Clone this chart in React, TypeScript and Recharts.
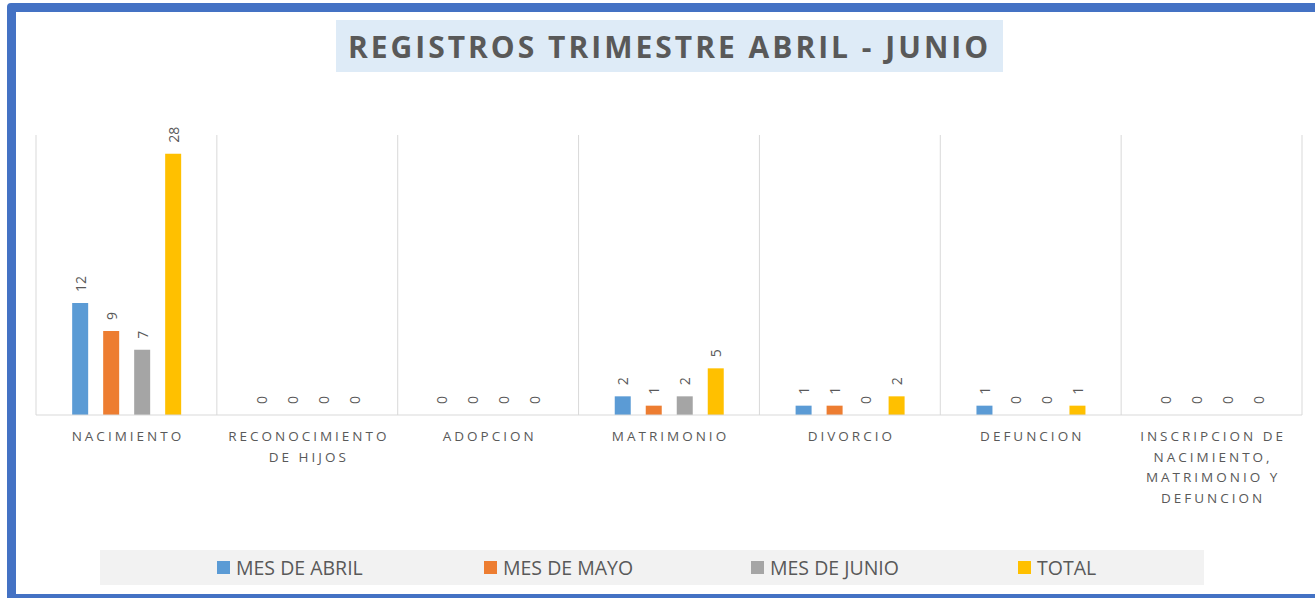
import { BarChart, Bar, XAxis, YAxis, CartesianGrid, LabelList } from 'recharts'

const categories = [
  'NACIMIENTO',
  'RECONOCIMIENTO DE HIJOS',
  'ADOPCION',
  'MATRIMONIO',
  'DIVORCIO',
  'DEFUNCION',
  'INSCRIPCION DE NACIMIENTO, MATRIMONIO Y DEFUNCION',
]
const abril = [12, 0, 0, 2, 1, 1, 0]
const mayo = [9, 0, 0, 1, 1, 0, 0]
const junio = [7, 0, 0, 2, 0, 0, 0]
const total = [28, 0, 0, 5, 2, 1, 0]

const series = [
  { key: 'abril', name: 'MES DE ABRIL', color: '#5B9BD5', values: abril },
  { key: 'mayo', name: 'MES DE MAYO', color: '#ED7D31', values: mayo },
  { key: 'junio', name: 'MES DE JUNIO', color: '#A5A5A5', values: junio },
  { key: 'total', name: 'TOTAL', color: '#FFC000', values: total },
]

const data = categories.map((name, i) => {
  const row: Record<string, string | number> = { name }
  series.forEach(s => { row[s.key] = s.values[i] })
  return row
})

const TEXT = '#595959'
const FONT = '"Open Sans", sans-serif'

// greedy wrap like Excel does for narrow category slots
function wrap(label: string, max = 15) {
  const lines: string[] = []
  let cur = ''
  for (const w of label.split(' ')) {
    const next = cur ? cur + ' ' + w : w
    if (next.length > max && cur) {
      lines.push(cur)
      cur = w
    } else cur = next
  }
  if (cur) lines.push(cur)
  return lines
}

function CategoryTick(props: any) {
  const { x, y, payload } = props
  const lines = wrap(String(payload.value))
  return (
    <text x={x} y={y} textAnchor="middle" fill={TEXT} fontFamily={FONT} fontSize={13.5} letterSpacing={3}>
      {lines.map((l, i) => (
        <tspan key={i} x={x + 1.5} dy={i === 0 ? 18 : 20.5}>{l}</tspan>
      ))}
    </text>
  )
}

function ValueLabel(props: any) {
  const { x, y, width, height, value } = props
  const cx = x + width / 2
  // zero bars come through with a tiny height, anchor to the top edge anyway
  const cy = Math.min(y, y + height) - 11
  return (
    <text
      x={cx}
      y={cy}
      transform={`rotate(-90, ${cx}, ${cy})`}
      textAnchor="start"
      dominantBaseline="central"
      fill={TEXT}
      fontFamily={FONT}
      fontSize={14}
    >
      {value}
    </text>
  )
}

export default function App() {
  return (
    <div style={{ position: 'fixed', left: 0, top: 0, width: 1315, height: 598, background: '#fff', overflow: 'hidden' }}>
      <div
        style={{
          position: 'absolute',
          left: 7,
          top: 3,
          width: 1320,
          height: 600,
          border: '9px solid #4472C4',
          borderRadius: 4,
          boxSizing: 'border-box',
        }}
      />
      <div
        style={{
          position: 'absolute',
          left: 336,
          top: 20,
          width: 667,
          height: 52,
          background: '#DEEBF7',
          display: 'flex',
          alignItems: 'center',
          justifyContent: 'center',
          fontFamily: FONT,
          fontWeight: 700,
          fontSize: 30,
          letterSpacing: 3,
          color: TEXT,
        }}
      >
        REGISTROS TRIMESTRE ABRIL - JUNIO
      </div>
      <div style={{ position: 'absolute', left: 0, top: 0 }}>
        <BarChart
          width={1315}
          height={598}
          data={data}
          margin={{ top: 135, right: 13, left: 36, bottom: 93 }}
          barCategoryGap="20%"
          barGap={15}
        >
          <CartesianGrid
            horizontal={false}
            stroke="#D9D9D9"
            verticalCoordinatesGenerator={({ offset }: any) =>
              Array.from({ length: categories.length + 1 }, (_, i) => offset.left + (i * offset.width) / categories.length)
            }
          />
          <XAxis
            dataKey="name"
            height={90}
            interval={0}
            tickLine={false}
            axisLine={{ stroke: '#D9D9D9' }}
            tick={<CategoryTick />}
          />
          <YAxis hide domain={[0, 30]} />
          {series.map(s => (
            <Bar
              key={s.key}
              dataKey={s.key}
              name={s.name}
              fill={s.color}
              minPointSize={0.01}
              isAnimationActive={false}
            >
              <LabelList dataKey={s.key} content={<ValueLabel />} />
            </Bar>
          ))}
        </BarChart>
      </div>
      <div
        style={{
          position: 'absolute',
          left: 100,
          top: 550,
          width: 1104,
          height: 35,
          background: '#F2F2F2',
          fontFamily: FONT,
        }}
      >
        {series.map((s, i) => (
          <div
            key={s.key}
            style={{ position: 'absolute', left: 117 + i * 267, top: 0, height: 35, display: 'flex', alignItems: 'center' }}
          >
            <span style={{ width: 13, height: 13, background: s.color, marginRight: 6, display: 'inline-block' }} />
            <span style={{ fontSize: 19.5, color: TEXT }}>{s.name}</span>
          </div>
        ))}
      </div>
    </div>
  )
}
